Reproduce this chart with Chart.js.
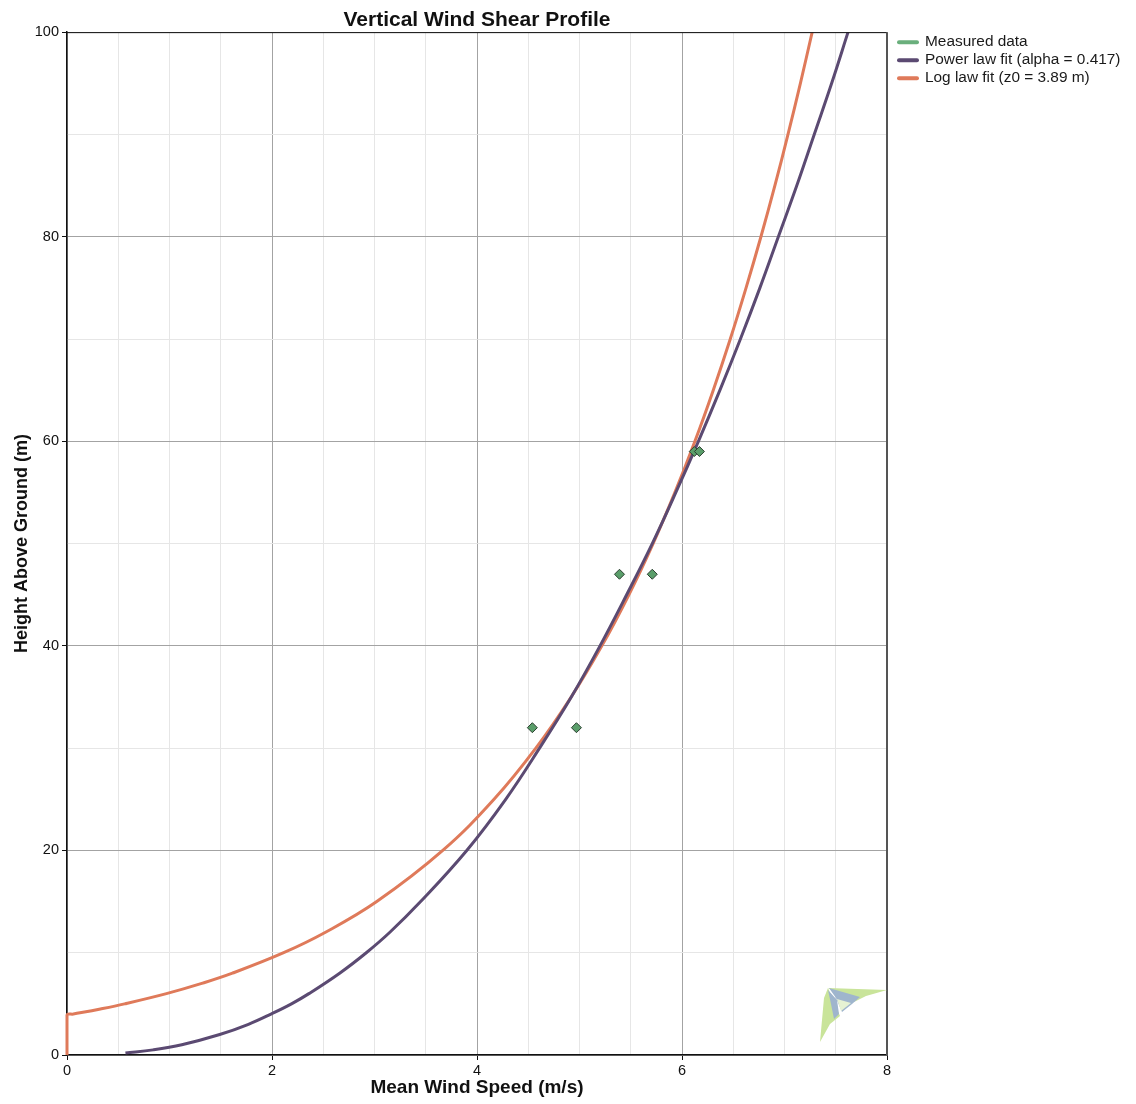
<!DOCTYPE html>
<html>
<head>
<meta charset="utf-8">
<title>Vertical Wind Shear Profile</title>
<script src="https://cdn.jsdelivr.net/npm/chart.js@4/dist/chart.umd.min.js"></script>
<style>
  html, body { margin: 0; padding: 0; background: #ffffff; }
  #wrap { width: 1136px; height: 1104px; }
</style>
</head>
<body>
<div id="wrap"><canvas id="shear" width="1136" height="1104"></canvas></div>
<script>
// Measured mean wind speed at each sensor height
const measuredSpeed = [4.54, 4.97, 5.39, 5.71, 6.12, 6.17];
const measuredHeight = [32, 32, 47, 47, 59, 59];

// Power law profile (alpha = 0.417)
const powerHeight = [0.2, 0.5, 1, 2, 3, 4, 5, 6, 8, 10, 12, 15, 20, 25, 30, 35, 40, 45, 50, 55, 60, 65, 70, 75, 80, 85, 90, 95, 100];
const powerSpeed  = [0.57, 0.84, 1.12, 1.49, 1.77, 1.99, 2.19, 2.36, 2.66, 2.92, 3.15, 3.45, 3.90, 4.28, 4.61, 4.92, 5.20, 5.46, 5.71, 5.94, 6.16, 6.37, 6.57, 6.76, 6.94, 7.12, 7.29, 7.46, 7.62];

// Log law profile (z0 = 3.89 m)
const logHeight = [0, 3.89, 4, 4.5, 5, 6, 7, 8, 10, 12, 15, 20, 25, 30, 35, 40, 45, 50, 55, 60, 65, 70, 75, 80, 85, 90, 95, 100];
const logSpeed  = [0, 0, 0.062, 0.326, 0.562, 0.970, 1.315, 1.614, 2.114, 2.522, 3.022, 3.666, 4.166, 4.574, 4.919, 5.218, 5.482, 5.718, 5.931, 6.126, 6.305, 6.471, 6.625, 6.770, 6.906, 7.034, 7.155, 7.270];

// Axis ticks
const speedTicks = [0, 2, 4, 6, 8];
const heightTicks = [0, 20, 40, 60, 80, 100];

const seriesLabels = ['Measured data', 'Power law fit (alpha = 0.417)', 'Log law fit (z0 = 3.89 m)'];
const seriesColors = ['#6aaf7c', '#5b4a72', '#df7a5a'];

const toPoints = (xs, ys) => xs.map((x, i) => ({ x: x, y: ys[i] }));

const FONT = '"Liberation Sans", Arial, sans-serif';

const isMajor = (list, v) => list.some(t => Math.abs(t - v) < 1e-6);

// Frame on the top and right of the plot, plus the legend and the corner logo
const decorations = {
  id: 'decorations',
  afterDatasetsDraw(chart) {
    const { ctx, chartArea: a } = chart;
    ctx.save();
    ctx.strokeStyle = '#111111';
    ctx.lineWidth = 1;
    ctx.beginPath();
    ctx.moveTo(a.left, a.top + 0.5);
    ctx.lineTo(a.right, a.top + 0.5);
    ctx.stroke();
    ctx.strokeStyle = '#555555';
    ctx.lineWidth = 2;
    ctx.beginPath();
    ctx.moveTo(a.right, a.top);
    ctx.lineTo(a.right, a.bottom);
    ctx.stroke();

    // kite logo in the lower right corner
    const ox = a.right - 59, oy = a.bottom - 67;
    const poly = (pts, col) => {
      ctx.fillStyle = col;
      ctx.beginPath();
      ctx.moveTo(ox + pts[0][0], oy + pts[0][1]);
      for (let i = 1; i < pts.length; i++) ctx.lineTo(ox + pts[i][0], oy + pts[i][1]);
      ctx.closePath();
      ctx.fill();
    };
    poly([[0, 0], [59, 2], [38, 8], [26, 14], [16, 9]], '#c9e49a');
    poly([[0, 0], [-4, 10], [-8, 54], [2, 36], [12, 28], [6, 14]], '#c9e49a');
    poly([[1, 0], [32, 9], [24, 16], [14, 24], [8, 10]], '#9fb5cd');
    poly([[0, 2], [9, 12], [11, 26], [6, 31], [3, 16]], '#9fb5cd');
    poly([[9, 11], [23, 15], [13, 23]], '#e6f2d3');
    ctx.restore();

    // legend
    ctx.save();
    const lx = a.right + 12, ly = a.top + 10;
    ctx.font = '15.4px ' + FONT;
    ctx.textBaseline = 'middle';
    ctx.lineCap = 'round';
    seriesLabels.forEach((lab, i) => {
      const y = ly + i * 18;
      ctx.strokeStyle = seriesColors[i];
      ctx.lineWidth = 4;
      ctx.beginPath();
      ctx.moveTo(lx, y);
      ctx.lineTo(lx + 18, y);
      ctx.stroke();
      ctx.fillStyle = '#1a1a1a';
      ctx.fillText(lab, lx + 26, y);
    });
    ctx.restore();
  }
};

new Chart(document.getElementById('shear'), {
  type: 'scatter',
  data: {
    datasets: [
      {
        label: seriesLabels[0],
        data: toPoints(measuredSpeed, measuredHeight),
        pointStyle: 'rectRot',
        pointRadius: 5,
        backgroundColor: '#5a9e6a',
        borderColor: '#2b3f30',
        borderWidth: 1,
        showLine: false
      },
      {
        label: seriesLabels[1],
        data: toPoints(powerSpeed, powerHeight),
        showLine: true,
        borderColor: seriesColors[1],
        borderWidth: 3,
        pointRadius: 0,
        tension: 0.4,
        fill: false
      },
      {
        label: seriesLabels[2],
        data: toPoints(logSpeed, logHeight),
        showLine: true,
        borderColor: seriesColors[2],
        borderWidth: 3,
        pointRadius: 0,
        tension: 0.4,
        fill: false,
        clip: { left: 2, top: 0, right: 0, bottom: 0 }
      }
    ]
  },
  options: {
    responsive: false,
    animation: false,
    layout: { padding: { left: 0, right: 249, top: 0, bottom: 0 } },
    plugins: {
      legend: { display: false },
      tooltip: { enabled: false },
      title: {
        display: true,
        text: 'Vertical Wind Shear Profile',
        fullSize: false,
        color: '#111111',
        font: { family: FONT, size: 21, weight: 'bold', lineHeight: 1.15 },
        padding: { top: 8, bottom: 0 }
      }
    },
    scales: {
      x: {
        type: 'linear',
        min: 0,
        max: 8,
        afterFit(scale) { scale.height = 49; },
        afterBuildTicks(scale) {
          const t = [];
          for (let v = 0; v <= 8.0001; v += 0.5) t.push({ value: v });
          scale.ticks = t;
        },
        ticks: {
          autoSkip: false,
          maxRotation: 0,
          padding: 2,
          color: '#111111',
          font: { family: FONT, size: 14.5 },
          callback: v => isMajor(speedTicks, v) ? String(v) : ''
        },
        grid: {
          color: c => isMajor(speedTicks, c.tick.value) ? '#a3a3a3' : '#e6e6e6',
          lineWidth: 1,
          tickLength: 5,
          tickColor: c => isMajor(speedTicks, c.tick.value) ? '#111111' : 'rgba(0,0,0,0)'
        },
        border: { display: true, color: '#111111', width: 1.5 },
        title: {
          display: true,
          text: 'Mean Wind Speed (m/s)',
          color: '#111111',
          font: { family: FONT, size: 19, weight: 'bold', lineHeight: 1.2 },
          padding: { top: 0, bottom: 5 }
        }
      },
      y: {
        type: 'linear',
        min: 0,
        max: 100,
        afterFit(scale) { scale.width = 67; },
        afterBuildTicks(scale) {
          const t = [];
          for (let v = 0; v <= 100; v += 10) t.push({ value: v });
          scale.ticks = t;
        },
        ticks: {
          autoSkip: false,
          padding: 3,
          color: '#111111',
          font: { family: FONT, size: 14.5 },
          callback: v => isMajor(heightTicks, v) ? String(v) : ''
        },
        grid: {
          color: c => isMajor(heightTicks, c.tick.value) ? '#a3a3a3' : '#e6e6e6',
          lineWidth: 1,
          tickLength: 5,
          tickColor: c => isMajor(heightTicks, c.tick.value) ? '#111111' : 'rgba(0,0,0,0)'
        },
        border: { display: true, color: '#111111', width: 1.5 },
        title: {
          display: true,
          text: 'Height Above Ground (m)',
          color: '#111111',
          font: { family: FONT, size: 18, weight: 'bold', lineHeight: 1.2 },
          padding: { top: 11, bottom: 0 }
        }
      }
    }
  },
  plugins: [decorations]
});
</script>
</body>
</html>
